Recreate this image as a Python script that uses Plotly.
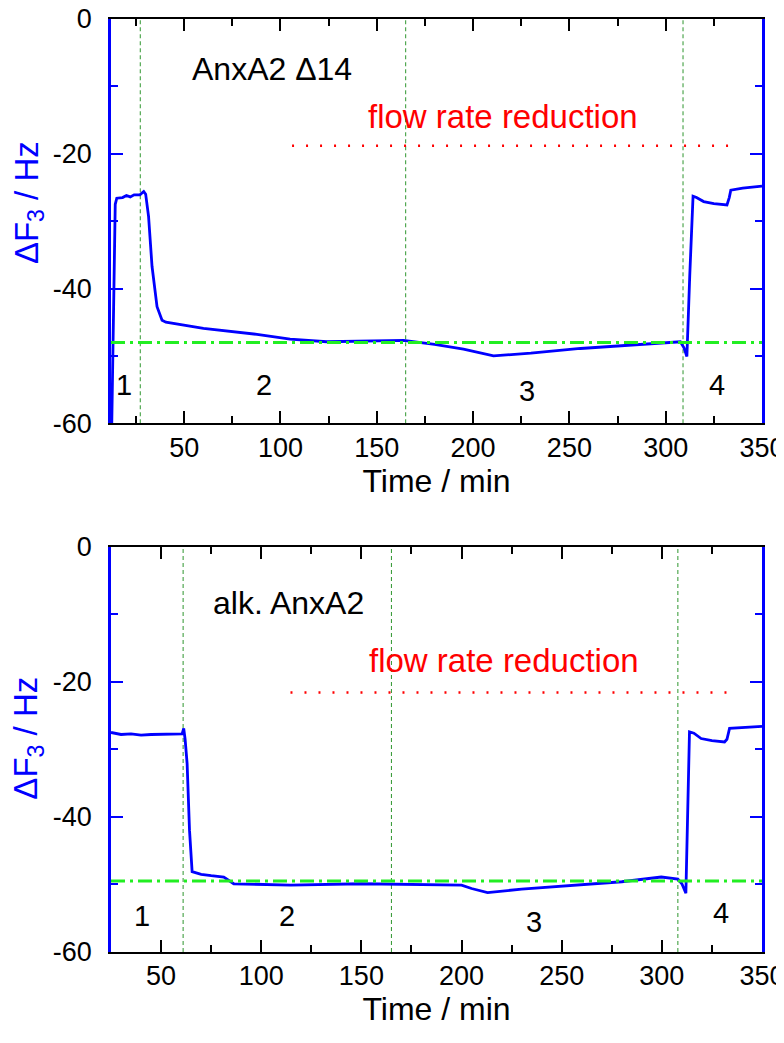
import plotly.graph_objects as go
from plotly.subplots import make_subplots

# ---------------- data ----------------
# Top panel: AnxA2 Δ14
t_top = [12.3, 13.2, 14.2, 15.0, 18, 20, 22, 24, 27, 29, 30, 31.5, 33.3, 35.9, 38.5, 40.5, 42.8,
         60, 87.8, 105, 124, 140, 163.9, 180, 195, 210.6, 230, 255.7, 280, 307.6, 309.5, 311,
         312.5, 314.2, 316, 319.7, 325, 331.8, 333.0, 333.8, 340, 350]
f_top = [-62, -45, -27.5, -26.6, -26.5, -26.2, -26.4, -26.1, -26.1, -25.6, -26.0, -29.3, -36.7,
         -42.7, -44.7, -45.0, -45.1, -45.9, -46.8, -47.5, -47.9, -47.8, -47.7, -48.3, -49.0,
         -50.0, -49.6, -48.9, -48.4, -47.9, -48.8, -50.1, -38, -26.3, -26.5, -27.1, -27.4,
         -27.6, -26.5, -25.4, -25.1, -24.8]

# Bottom panel: alk. AnxA2
t_bot = [25, 30, 35, 40, 45, 50, 55, 60.5, 61.3, 62, 63, 64.2, 65.5, 70, 75, 81.3, 86.3, 100,
         114.7, 150, 200, 205, 213, 230, 260, 280, 299.7, 305, 308, 310, 312, 313.8, 316, 319.6,
         325, 331.3, 332.5, 333.8, 340, 350]
f_bot = [-27.5, -27.8, -27.7, -27.9, -27.8, -27.8, -27.7, -27.7, -26.9, -28.5, -32.1, -42, -48.1,
         -48.5, -48.7, -48.9, -49.9, -50.0, -50.1, -49.9, -50.1, -50.6, -51.2, -50.7, -50.0,
         -49.6, -48.9, -49.1, -49.2, -49.9, -51.3, -27.4, -27.6, -28.4, -28.7, -28.9, -28.5,
         -26.9, -26.8, -26.6]

# reference lines
vlines_top = [27.2, 165, 309]
vlines_bot = [61, 165, 308]
baseline_top = -48.0
baseline_bot = -49.5
flow_top = dict(x0=106, x1=334.5, y=-18.8)
flow_bot = dict(x0=114.6, x1=335.5, y=-21.6)

# phase labels
phase_labels = ["1", "2", "3", "4"]
phase_x_top = [18.9, 91.6, 228, 326.7]
phase_y_top = [-54.3, -54.3, -55.2, -54.3]
phase_x_bot = [40.7, 113, 236, 329.6]
phase_y_bot = [-54.6, -54.6, -55.5, -54.3]

xrange_top = [12, 350]
xrange_bot = [25, 350]
yrange = [-60, 0]
xticks = [50, 100, 150, 200, 250, 300, 350]
yticks = [-60, -40, -20, 0]

# ---------------- figure ----------------
FONT = "Liberation Sans, Arial, sans-serif"
BLUE = "#0000ff"
fig = make_subplots(rows=2, cols=1, vertical_spacing=0.132)

panels = [
    (1, t_top, f_top, vlines_top, baseline_top, flow_top, xrange_top, phase_x_top, phase_y_top,
     "AnxA2 \u039414", 95.7, -7.4, 215.7, -14.5),
    (2, t_bot, f_bot, vlines_bot, baseline_bot, flow_bot, xrange_bot, phase_x_bot, phase_y_bot,
     "alk. AnxA2", 113.4, -8.4, 221, -16.9),
]

for (row, t, f, vl, base, flow, xr, px, py, title, tx, ty, fx, fy) in panels:
    for v in vl:
        fig.add_trace(go.Scatter(x=[v, v], y=yrange, mode="lines",
                                 line=dict(color="#2e962e", width=1, dash="4px,3px"),
                                 showlegend=False, hoverinfo="skip"), row=row, col=1)
    fig.add_trace(go.Scatter(x=[flow["x0"], flow["x1"]], y=[flow["y"], flow["y"]], mode="lines",
                             line=dict(color="#ff0000", width=2.5, dash="2px,12px"),
                             showlegend=False, hoverinfo="skip"), row=row, col=1)
    fig.add_trace(go.Scatter(x=t, y=f, mode="lines", line=dict(color=BLUE, width=2.8),
                             showlegend=False), row=row, col=1)
    fig.add_trace(go.Scatter(x=xr, y=[base, base], mode="lines",
                             line=dict(color="#22ee22", width=3, dash="14px,5px,3px,5px"),
                             showlegend=False, hoverinfo="skip"), row=row, col=1)

    xa = "x" if row == 1 else "x2"
    ya = "y" if row == 1 else "y2"
    fig.add_annotation(x=tx, y=ty, xref=xa, yref=ya, text=title, showarrow=False,
                       font=dict(family=FONT, size=32, color="black"))
    fig.add_annotation(x=fx, y=fy, xref=xa, yref=ya, text="flow rate reduction", showarrow=False,
                       font=dict(family=FONT, size=33, color="#ff0000"))
    for lab, lx, ly in zip(phase_labels, px, py):
        fig.add_annotation(x=lx, y=ly, xref=xa, yref=ya, text=lab, showarrow=False,
                           font=dict(family=FONT, size=29, color="black"))

    fig.update_xaxes(row=row, col=1, range=xr, tickvals=xticks, ticktext=[str(v) for v in xticks],
                     showline=True, linecolor="black", linewidth=2, mirror="ticks",
                     ticks="inside", ticklen=12, tickwidth=2, tickcolor="black",
                     minor=dict(dtick=25, ticks="inside", ticklen=7, tickwidth=2, tickcolor="black"),
                     showgrid=False, zeroline=False, automargin=False,
                     ticklabeloverflow="allow",
                     tickfont=dict(family=FONT, size=27, color="black"),
                     ticklabelstandoff=-1,
                     title=dict(text="Time / min", font=dict(family=FONT, size=32, color="black"),
                                standoff=6))
    fig.update_yaxes(row=row, col=1, range=yrange, tickvals=yticks, ticktext=[str(v) for v in yticks],
                     showline=True, linecolor=BLUE, linewidth=2.5, mirror="ticks",
                     ticks="inside", ticklen=12, tickwidth=2, tickcolor=BLUE,
                     minor=dict(dtick=10, ticks="inside", ticklen=7, tickwidth=2, tickcolor=BLUE),
                     showgrid=False, zeroline=False, automargin=False,
                     ticklabeloverflow="allow",
                     tickfont=dict(family=FONT, size=27, color="black"),
                     ticklabelstandoff=11)

# y axis titles as rotated annotations
fig.add_annotation(x=-0.127, y=0.803, xref="paper", yref="paper", text="\u0394F<sub>3</sub> / Hz",
                   textangle=-90, showarrow=False, xanchor="center", yanchor="middle",
                   font=dict(family=FONT, size=33, color=BLUE))
fig.add_annotation(x=-0.127, y=0.229, xref="paper", yref="paper", text="\u0394F<sub>3</sub> / Hz",
                   textangle=-90, showarrow=False, xanchor="center", yanchor="middle",
                   font=dict(family=FONT, size=33, color=BLUE))

# the page body adds an 8px offset; margins compensate so the plot sits where the reference has it
fig.update_layout(width=784, height=1043, plot_bgcolor="white", paper_bgcolor="white",
                  margin=dict(l=103, r=30, t=11, b=99))
fig.update_yaxes(domain=[0.5667, 1.0], row=1, col=1)
fig.update_yaxes(domain=[0.0, 0.4344], row=2, col=1)

fig.write_html("out.html")
